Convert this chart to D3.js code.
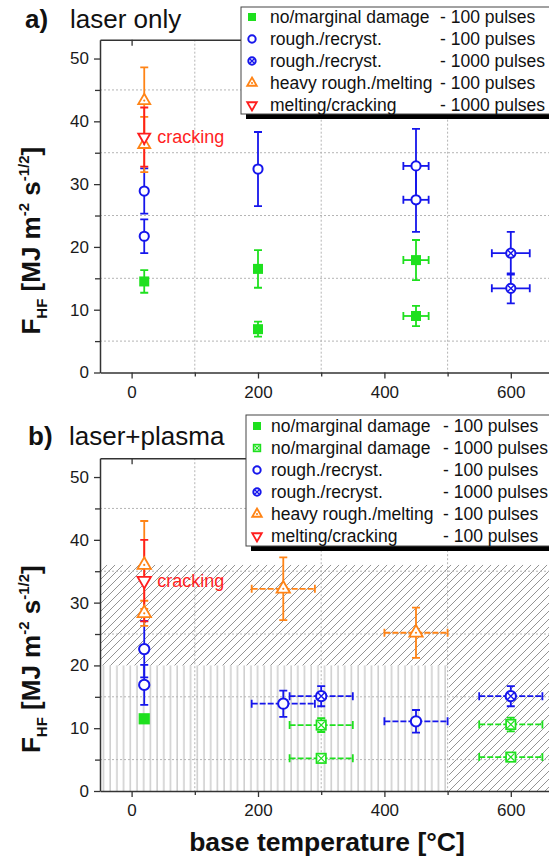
<!DOCTYPE html>
<html>
<head>
<meta charset="utf-8">
<script src="https://cdn.jsdelivr.net/npm/d3@7"></script>
<style>
  body { margin: 0; background: #fff; }
  svg { display: block; font-family: "Liberation Sans", Arial, sans-serif; }
</style>
</head>
<body>
<div id="chart"></div>
<script>

// rows are [base temperature, F_HF, x error, y error]
var aNoDamage100 = [[20, 14.5, 0, 1.8], [200, 16.5, 5, 3.0], [200, 6.9, 5, 1.2], [450, 17.9, 20, 3.2], [450, 9.0, 20, 1.6]];
var aRough100 = [[20, 28.9, 0, 3.6], [20, 21.7, 0, 2.7], [200, 32.4, 5, 5.9], [450, 32.9, 20, 5.9], [450, 27.5, 20, 5.1]];
var aRough1000 = [[600, 19.0, 30, 3.4], [600, 13.4, 30, 2.4]];
var aHeavy100 = [[20, 43.3, 0, 5.3], [20, 36.3, 0, 4.4]];
var aMelt1000 = [[20, 37.5, 0, 4.7]];

var bNoDamage100 = [[20, 11.5, 0, 0.5]];
var bNoDamage1000 = [[300, 10.5, 50, 1.1], [300, 5.2, 50, 0.5], [600, 10.6, 50, 1.1], [600, 5.4, 50, 0.5]];
var bRough100 = [[20, 22.6, 0, 4.5], [20, 16.9, 0, 3.2], [240, 13.9, 50, 2.1], [450, 11.1, 50, 1.8]];
var bRough1000 = [[300, 15.1, 50, 1.6], [600, 15.1, 50, 1.6]];
var bHeavy100 = [[20, 36.0, 0, 7.0], [20, 28.3, 0, 2.0], [240, 32.2, 50, 5.0], [450, 25.2, 50, 4.0]];
var bMelt100 = [[20, 33.5, 0, 6.5]];

// hatched zones in panel b: [x0, x1, y0, y1]
var bDiagZones = [[-50, 700, 20, 36], [502, 700, 0, 20]];
var bVertZones = [[-50, 498, 0, 20]];

var xTicks = [0, 200, 400, 600];
var xMinor = [100, 300, 500];
var yTicks = [0, 10, 20, 30, 40, 50];
var yMinor = [5, 15, 25, 35, 45];

var legendA = [
  ['no/marginal damage', '- 100 pulses'],
  ['rough./recryst.', '- 100 pulses'],
  ['rough./recryst.', '- 1000 pulses'],
  ['heavy rough./melting', '- 100 pulses'],
  ['melting/cracking', '- 1000 pulses']
];
var legendB = [
  ['no/marginal damage', '- 100 pulses'],
  ['no/marginal damage', '- 1000 pulses'],
  ['rough./recryst.', '- 100 pulses'],
  ['rough./recryst.', '- 1000 pulses'],
  ['heavy rough./melting', '- 100 pulses'],
  ['melting/cracking', '- 100 pulses']
];

var COLORS = {
  green: '#1ee01e',
  blue: '#1616ec',
  orange: '#ff8416',
  red: '#ff1e1e'
};

var panels = [
  {
    'tag': 'a)', 'title': 'laser only', 'tagX': 25, 'titleX': 70, 'titleY': 28,
    'top': 39.7, 'bottom': 372.5,
    'legend': legendA, 'legendBox': [241, 7, 320, 107], 'legendRow0': 17, 'textX': 270, 'suffixX': 440,
    'dashX': false, 'markerSize': 1,
    'series': [
      {'data': aNoDamage100, 'marker': 'square', 'color': COLORS.green},
      {'data': aRough100, 'marker': 'circle', 'color': COLORS.blue},
      {'data': aRough1000, 'marker': 'xcircle', 'color': COLORS.blue},
      {'data': aHeavy100, 'marker': 'tri', 'color': COLORS.orange},
      {'data': aMelt1000, 'marker': 'tridown', 'color': COLORS.red}
    ],
    'crack': aMelt1000[0]
  },
  {
    'tag': 'b)', 'title': 'laser+plasma', 'tagX': 28, 'titleX': 69, 'titleY': 445,
    'top': 458.2, 'bottom': 791,
    'legend': legendB, 'legendBox': [246, 415, 320, 131], 'legendRow0': 426, 'textX': 271, 'suffixX': 443,
    'dashX': true, 'markerSize': 1.12,
    'series': [
      {'data': bNoDamage100, 'marker': 'square', 'color': COLORS.green},
      {'data': bNoDamage1000, 'marker': 'xsquare', 'color': COLORS.green},
      {'data': bRough100, 'marker': 'circle', 'color': COLORS.blue},
      {'data': bRough1000, 'marker': 'xcircle', 'color': COLORS.blue},
      {'data': bHeavy100, 'marker': 'tri', 'color': COLORS.orange},
      {'data': bMelt100, 'marker': 'tridown', 'color': COLORS.red}
    ],
    'crack': bMelt100[0],
    'diag': bDiagZones,
    'vert': bVertZones
  }
];

var W = 549, H = 861;
var x = d3.scaleLinear().domain([-50, 700]).range([100, 574]);

var svg = d3.select('#chart').append('svg')
  .attr('width', W).attr('height', H);

var defs = svg.append('defs');

var diag = defs.append('pattern')
  .attr('id', 'diag').attr('patternUnits', 'userSpaceOnUse')
  .attr('width', 8).attr('height', 8);
diag.append('path')
  .attr('d', 'M-1,1 L1,-1 M0,8 L8,0 M7,9 L9,7')
  .attr('stroke', '#707070').attr('stroke-width', 0.75);

var vert = defs.append('pattern')
  .attr('id', 'vert').attr('patternUnits', 'userSpaceOnUse')
  .attr('width', 6.7).attr('height', 10);
vert.append('line')
  .attr('x1', 3).attr('x2', 3).attr('y1', 0).attr('y2', 10)
  .attr('stroke', '#c4c4c4').attr('stroke-width', 1.3);

// marker builder
function marker(g, type, color, k) {
  var sym;
  if (type === 'square' || type === 'xsquare') {
    var s = (type === 'square' ? 10 : 8.4) * k;
    g.append('rect')
      .attr('x', -s / 2).attr('y', -s / 2).attr('width', s).attr('height', s)
      .attr('fill', type === 'square' ? color : '#fff')
      .attr('stroke', color).attr('stroke-width', type === 'square' ? 0 : 1.7);
    if (type === 'xsquare') {
      var q = s / 2 - 1;
      g.append('path')
        .attr('d', 'M' + -q + ',' + -q + 'L' + q + ',' + q + 'M' + -q + ',' + q + 'L' + q + ',' + -q)
        .attr('stroke', color).attr('stroke-width', 1.2);
    }
  } else if (type === 'circle' || type === 'xcircle') {
    var r = 4.6 * k;
    g.append('circle').attr('r', r)
      .attr('fill', '#fff').attr('stroke', color).attr('stroke-width', 2);
    if (type === 'xcircle') {
      var c = r * 0.7;
      g.append('path')
        .attr('d', 'M' + -c + ',' + -c + 'L' + c + ',' + c + 'M' + -c + ',' + c + 'L' + c + ',' + -c)
        .attr('stroke', color).attr('stroke-width', 1.4);
    }
  } else {
    sym = d3.symbol().type(d3.symbolTriangle).size(62 * k * k);
    g.append('path').attr('d', sym())
      .attr('transform', type === 'tridown' ? 'rotate(180)' : null)
      .attr('fill', '#fff').attr('stroke', color).attr('stroke-width', 1.8)
      .attr('stroke-linejoin', 'miter');
    if (type === 'tri') {
      g.append('circle').attr('r', 1.1).attr('fill', color);
    }
  }
}

panels.forEach(function(p) {

  var y = d3.scaleLinear().domain([0, 53]).range([p.bottom, p.top]);
  var g = svg.append('g');

  var clipId = 'clip' + p.top;
  defs.append('clipPath').attr('id', clipId)
    .append('rect')
    .attr('x', x(-50)).attr('y', p.top)
    .attr('width', x(700) - x(-50)).attr('height', p.bottom - p.top);

  var bg = g.append('g').attr('clip-path', 'url(#' + clipId + ')');

  // hatched zones
  (p.vert || []).forEach(function(z) {
    bg.append('rect')
      .attr('x', x(z[0])).attr('width', x(z[1]) - x(z[0]))
      .attr('y', y(z[3])).attr('height', y(z[2]) - y(z[3]))
      .attr('fill', 'url(#vert)');
  });
  (p.diag || []).forEach(function(z) {
    bg.append('rect')
      .attr('x', x(z[0])).attr('width', x(z[1]) - x(z[0]))
      .attr('y', y(z[3])).attr('height', y(z[2]) - y(z[3]))
      .attr('fill', 'url(#diag)');
  });

  // dotted grid on the minor values
  bg.selectAll('.gy').data(yMinor).enter().append('line')
    .attr('x1', x(-50)).attr('x2', x(700))
    .attr('y1', function(d) { return y(d); }).attr('y2', function(d) { return y(d); })
    .attr('stroke', '#b4b4b4').attr('stroke-width', 1).attr('stroke-dasharray', '2,2');
  bg.selectAll('.gx').data(xMinor).enter().append('line')
    .attr('y1', p.top).attr('y2', p.bottom)
    .attr('x1', function(d) { return x(d); }).attr('x2', function(d) { return x(d); })
    .attr('stroke', '#b4b4b4').attr('stroke-width', 1).attr('stroke-dasharray', '2,2');

  // error bars then markers
  p.series.forEach(function(s) {
    var eg = g.append('g').attr('stroke', s.color).attr('stroke-width', 1.8).attr('fill', 'none');
    s.data.forEach(function(d) {
      var cx = x(d[0]), cy = y(d[1]);
      var y0 = y(d[1] - d[3]), y1 = y(d[1] + d[3]);
      eg.append('path').attr('d',
        'M' + cx + ',' + y0 + 'V' + y1 +
        'M' + (cx - 4) + ',' + y0 + 'H' + (cx + 4) +
        'M' + (cx - 4) + ',' + y1 + 'H' + (cx + 4));
      if (d[2] > 0) {
        var x0 = x(d[0] - d[2]), x1 = x(d[0] + d[2]);
        eg.append('path').attr('d', 'M' + x0 + ',' + cy + 'H' + x1)
          .attr('stroke-dasharray', p.dashX ? '6,2' : null);
        eg.append('path').attr('d',
          'M' + x0 + ',' + (cy - 4) + 'V' + (cy + 4) +
          'M' + x1 + ',' + (cy - 4) + 'V' + (cy + 4));
      }
    });
  });
  p.series.forEach(function(s) {
    s.data.forEach(function(d) {
      var mg = g.append('g').attr('transform', 'translate(' + x(d[0]) + ',' + y(d[1]) + ')');
      marker(mg, s.marker, s.color, p.markerSize);
    });
  });

  g.append('text')
    .attr('x', x(p.crack[0]) + 13).attr('y', y(p.crack[1]) + 6)
    .attr('font-size', 18).attr('fill', COLORS.red)
    .text('cracking');

  // axes
  var ax = g.append('g').attr('class', 'axes');
  var left = ax.append('g').attr('transform', 'translate(' + x(-50) + ',0)')
    .call(d3.axisLeft(y).tickValues(yTicks).tickSize(6).tickSizeOuter(0).tickPadding(5));
  left.append('g')
    .call(d3.axisLeft(y).tickValues(yMinor).tickSize(5).tickFormat(''))
    .select('.domain').remove();
  var bottom = ax.append('g').attr('transform', 'translate(0,' + p.bottom + ')')
    .call(d3.axisBottom(x).tickValues(xTicks).tickSize(6).tickSizeOuter(0).tickPadding(7));
  bottom.append('g')
    .call(d3.axisBottom(x).tickValues(xMinor).tickSize(4).tickFormat(''))
    .select('.domain').remove();
  ax.append('g').attr('transform', 'translate(0,' + p.top + ')')
    .call(d3.axisTop(x).tickValues(xTicks).tickSize(-6).tickSizeOuter(0).tickFormat(''));

  ax.selectAll('.domain').attr('stroke', '#333').attr('stroke-width', 1.5);
  ax.selectAll('.tick line').attr('stroke', '#333').attr('stroke-width', 1.3);
  ax.selectAll('.tick text')
    .attr('font-size', 17).attr('fill', '#1a1a1a')
    .attr('font-family', '"Liberation Sans", Arial, sans-serif');

  // y title
  var yt = g.append('text')
    .attr('transform', 'translate(40,' + y(21) + ') rotate(-90)')
    .attr('text-anchor', 'middle')
    .attr('font-size', 26).attr('font-weight', 'bold').attr('fill', '#111');
  yt.append('tspan').text('F');
  yt.append('tspan').attr('font-size', 15).attr('dy', 7).text('HF');
  yt.append('tspan').attr('dy', -7).text(' [MJ m');
  yt.append('tspan').attr('font-size', 15).attr('dy', -11).text('-2');
  yt.append('tspan').attr('dy', 11).text(' s');
  yt.append('tspan').attr('font-size', 15).attr('dy', -11).text('-1/2');
  yt.append('tspan').attr('dy', 11).text(']');

  // panel heading
  g.append('text').attr('x', p.tagX).attr('y', p.titleY)
    .attr('font-size', 26).attr('font-weight', 'bold').attr('fill', '#111').text(p.tag);
  g.append('text').attr('x', p.titleX).attr('y', p.titleY)
    .attr('font-size', 26).attr('fill', '#111').text(p.title);

  // legend with drop shadow
  var lb = p.legendBox;
  var lg = g.append('g');
  lg.append('rect').attr('x', lb[0] + 5).attr('y', lb[1] + 5)
    .attr('width', lb[2]).attr('height', lb[3]).attr('fill', '#000');
  lg.append('rect').attr('x', lb[0]).attr('y', lb[1])
    .attr('width', lb[2]).attr('height', lb[3])
    .attr('fill', '#fff').attr('stroke', '#444').attr('stroke-width', 1);
  p.legend.forEach(function(row, i) {
    var ry = p.legendRow0 + i * 22;
    var s = p.series[i];
    var mg = lg.append('g').attr('transform', 'translate(' + (lb[0] + 11) + ',' + ry + ')');
    marker(mg, s.marker, s.color, 0.8);
    lg.append('text').attr('x', p.textX).attr('y', ry + 6)
      .attr('font-size', 17.5).attr('fill', '#111').text(row[0]);
    lg.append('text').attr('x', p.suffixX).attr('y', ry + 6)
      .attr('font-size', 17.5).attr('fill', '#111').text(row[1]);
  });

});

svg.append('text')
  .attr('x', 327).attr('y', 851)
  .attr('text-anchor', 'middle')
  .attr('font-size', 26.5).attr('font-weight', 'bold').attr('fill', '#111')
  .text('base temperature [\u00b0C]');

</script>
</body>
</html>
